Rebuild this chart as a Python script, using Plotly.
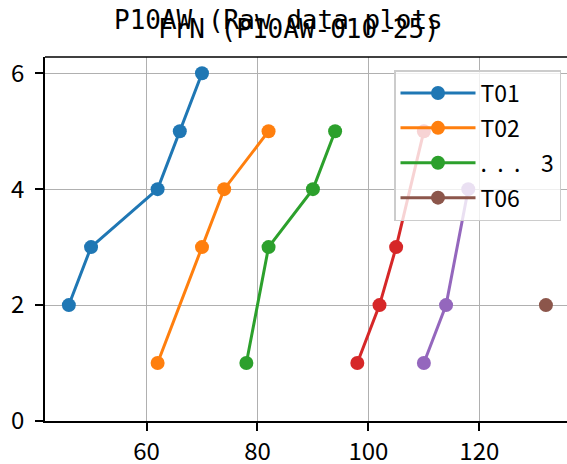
import plotly.graph_objects as go

# Data
t01_x = [46, 50, 62, 66, 70]
t01_y = [2, 3, 4, 5, 6]
t02_x = [62, 70, 74, 82]
t02_y = [1, 3, 4, 5]
t03_x = [78, 82, 90, 94]
t03_y = [1, 3, 4, 5]
t04_x = [98, 102, 105, 110]
t04_y = [1, 2, 3, 5]
t05_x = [110, 114, 118]
t05_y = [1, 2, 4]
t06_x = [132]
t06_y = [2]

names = ["T01", "T02", ".\u00a0\u00a0.\u00a0\u00a0.\u00a0\u00a0\u00a0\u00a03", "T04", "T05", "T06"]
colors = ["#1f77b4", "#ff7f0e", "#2ca02c", "#d62728", "#9467bd", "#8c564b"]
show = [True, True, True, False, False, True]
xs = [t01_x, t02_x, t03_x, t04_x, t05_x, t06_x]
ys = [t01_y, t02_y, t03_y, t04_y, t05_y, t06_y]

x_ticks = [60, 80, 100, 120]
y_ticks = [0, 2, 4, 6]

FONT = "Noto Sans CJK JP"
TFONT = "DejaVu Sans Mono"

fig = go.Figure()
for i in range(6):
    fig.add_trace(go.Scatter(
        x=xs[i], y=ys[i], mode="lines+markers", name=names[i],
        showlegend=show[i], legendgroup=f"g{i}",
        line=dict(color=colors[i], width=3),
        marker=dict(color=colors[i], size=14),
    ))

W, H = 567, 464
L, T, B = 45, 57, 43
PH = H - T - B
fig.update_layout(
    width=W, height=H,
    margin=dict(l=L, r=0, t=T, b=B, autoexpand=False),
    plot_bgcolor="white", paper_bgcolor="white",
    font=dict(family=FONT, size=24, color="black"),
    showlegend=True,
    legend=dict(
        x=(394 - L) / (W - L), y=(H - B - 70) / PH, xanchor="left", yanchor="top",
        bgcolor="rgba(255,255,255,0.8)", bordercolor="#cccccc", borderwidth=1.5,
        font=dict(family=FONT, size=23, color="black"),
        tracegroupgap=2, itemwidth=75,
    ),
    xaxis=dict(
        range=[41.7, 135.8], tickvals=x_ticks, ticks="outside", ticklen=8, tickwidth=1.5,
        tickcolor="black", showline=True, linecolor="black", linewidth=1.5,
        showgrid=True, gridcolor="#b0b0b0", gridwidth=1.4, zeroline=False,
        tickfont=dict(family=FONT, size=24, color="black"), ticklabelstandoff=0,
    ),
    yaxis=dict(
        range=[0, 6.28], tickvals=y_ticks, ticks="outside", ticklen=8, tickwidth=1.5,
        tickcolor="black", showline=True, linecolor="black", linewidth=1.5,
        showgrid=True, gridcolor="#b0b0b0", gridwidth=1.4, zeroline=False,
        tickfont=dict(family=FONT, size=24, color="black"), ticklabelstandoff=6,
    ),
    shapes=[dict(type="line", xref="paper", yref="paper", x0=0, x1=1, y0=1, y1=1,
                 line=dict(color="black", width=1.5))],
    annotations=[
        dict(text="P10AW (Raw data plots", xref="paper", yref="paper",
             x=(278 - L) / (W - L), y=(H - B - 20) / PH, xanchor="center", yanchor="middle",
             showarrow=False, font=dict(family=TFONT, size=26, color="black")),
        dict(text="FrN (P10AW-010-25)", xref="paper", yref="paper",
             x=(299 - L) / (W - L), y=(H - B - 29) / PH, xanchor="center", yanchor="middle",
             showarrow=False, font=dict(family=TFONT, size=26, color="black")),
    ],
)

fig.write_html("out.html", config={"displayModeBar": False},
               post_script="document.body.style.margin='0';document.body.style.overflow='hidden';")
